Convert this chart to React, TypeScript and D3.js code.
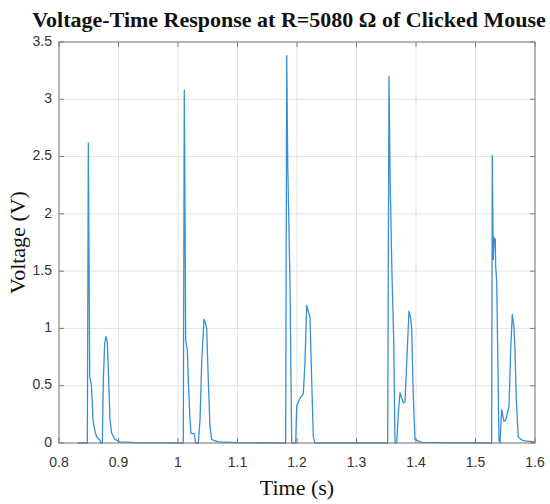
import React from "react";
import * as d3 from "d3";

const title = "Voltage-Time Response at R=5080 Ω of Clicked Mouse";
const xLabel = "Time (s)";
const yLabel = "Voltage (V)";
const xTicks = [0.8, 0.9, 1.0, 1.1, 1.2, 1.3, 1.4, 1.5, 1.6];
const yTicks = [0, 0.5, 1, 1.5, 2, 2.5, 3, 3.5];

// time (s)
const timeS = [
  0.832, 0.8476, 0.8493, 0.8516, 0.8538, 0.855, 0.8571, 0.8605, 0.8633, 0.866, 0.8689, 0.8706,
  0.8728, 0.8745, 0.8768, 0.879, 0.8812, 0.8835, 0.8857, 0.8886, 0.8941, 0.9025, 0.93,
  1.0089, 1.0106, 1.0129, 1.0157, 1.0173, 1.0202, 1.0218, 1.0274, 1.0297,
  1.0341, 1.037, 1.0398, 1.0437, 1.0465, 1.0482, 1.0509, 1.0538, 1.0566, 1.0678, 1.1,
  1.181, 1.1827, 1.1845, 1.1882, 1.1911,
  1.1978, 1.1995, 1.205, 1.2106, 1.2134, 1.2163, 1.219, 1.2218, 1.2247, 1.2274, 1.2303,
  1.3524, 1.3546, 1.3565, 1.3595, 1.3625, 1.3647,
  1.3676, 1.3703, 1.3731, 1.3787, 1.3815, 1.3844, 1.3882, 1.3911, 1.3928, 1.3955, 1.3983, 1.41,
  1.5272, 1.5282, 1.5299, 1.5316, 1.5333, 1.5339, 1.5356, 1.5395, 1.5412,
  1.544, 1.5479, 1.5507, 1.5563, 1.5591, 1.5618, 1.5647, 1.5664, 1.5686, 1.5719, 1.58, 1.59, 1.6,
];
// voltage (V)
const voltageV = [
  0, 0, 2.62, 0.58, 0.52, 0.46, 0.2, 0.1, 0.055, 0.04, 0.025, 0,
  0, 0.55, 0.87, 0.93, 0.88, 0.55, 0.2, 0.085, 0.032, 0.01, 0.004,
  0, 3.08, 0.9, 0.81, 0.55, 0.2, 0.085, 0.08, 0,
  0, 0.2, 0.7, 1.08, 1.04, 1.0, 0.55, 0.14, 0.03, 0.01, 0.003,
  0, 3.38, 2.4, 1.4, 0,
  0, 0.32, 0.39, 0.43, 0.7, 1.2, 1.15, 1.1, 0.55, 0.055, 0,
  0, 3.2, 2.3, 1.5, 0.9, 0,
  0, 0.26, 0.44, 0.35, 0.36, 0.7, 1.15, 1.09, 0.99, 0.4, 0.03, 0.005,
  0, 2.51, 1.6, 1.79, 1.78, 1.54, 1.42, 0.02, 0,
  0.29, 0.19, 0.2, 0.32, 0.81, 1.12, 1.01, 0.81, 0.38, 0.05, 0.02, 0.015, 0.01,
];

const W = 550;
const H = 504;
const left = 59;
const right = 535;
const top = 42;
const bottom = 443;

export default function App() {
  const x = d3.scaleLinear().domain([0.8, 1.6]).range([left, right]);
  const y = d3.scaleLinear().domain([0, 3.5]).range([bottom, top]);
  const pts = timeS.map((t, i) => [t, voltageV[i]] as [number, number]);
  const line = d3
    .line<[number, number]>()
    .x((d) => x(d[0]))
    .y((d) => y(d[1]));
  const fmt = d3.format("~g");
  const axisColor = "#7d7d7d";
  const tickLen = 5;
  return (
    <div style={{ position: "absolute", left: 0, top: 0 }}>
      <svg width={W} height={H} style={{ display: "block", background: "#fff" }}>
        <defs>
          <clipPath id="plotclip">
            <rect x={left} y={top - 10} width={right - left} height={bottom - top + 11} />
          </clipPath>
        </defs>
        {/* grid */}
        {xTicks.map((t) => (
          <line key={"gx" + t} x1={x(t)} x2={x(t)} y1={top} y2={bottom} stroke="#e3e3e3" strokeWidth={1} />
        ))}
        {yTicks.map((t) => (
          <line key={"gy" + t} x1={left} x2={right} y1={y(t)} y2={y(t)} stroke="#e3e3e3" strokeWidth={1} />
        ))}
        {/* data */}
        <path
          d={line(pts) || ""}
          fill="none"
          stroke="#3a8fd4"
          strokeWidth={1.3}
          strokeLinejoin="round"
          clipPath="url(#plotclip)"
        />
        {/* box */}
        <rect x={left} y={top} width={right - left} height={bottom - top} fill="none" stroke={axisColor} strokeWidth={1} />
        {/* ticks */}
        {xTicks.map((t) => (
          <g key={"tx" + t}>
            <line x1={x(t)} x2={x(t)} y1={bottom} y2={bottom - tickLen} stroke={axisColor} />
            <line x1={x(t)} x2={x(t)} y1={top} y2={top + tickLen} stroke={axisColor} />
            <text
              x={x(t)}
              y={463}
              textAnchor="middle"
              dominantBaseline="middle"
              fontFamily="Liberation Sans, Arial, sans-serif"
              fontSize={14}
              fill="#333"
            >
              {fmt(t)}
            </text>
          </g>
        ))}
        {yTicks.map((t) => (
          <g key={"ty" + t}>
            <line x1={left} x2={left + tickLen} y1={y(t)} y2={y(t)} stroke={axisColor} />
            <line x1={right} x2={right - tickLen} y1={y(t)} y2={y(t)} stroke={axisColor} />
            <text
              x={52}
              y={y(t)}
              textAnchor="end"
              dominantBaseline="middle"
              fontFamily="Liberation Sans, Arial, sans-serif"
              fontSize={14}
              fill="#333"
            >
              {fmt(t)}
            </text>
          </g>
        ))}
        {/* labels */}
        <text
          x={289}
          y={27}
          textAnchor="middle"
          fontFamily="Liberation Serif, Times New Roman, serif"
          fontWeight="bold"
          fontSize={22}
          fill="#111"
        >
          {title}
        </text>
        <text
          x={(left + right) / 2}
          y={495}
          textAnchor="middle"
          fontFamily="Liberation Serif, Times New Roman, serif"
          fontSize={22}
          fill="#111"
        >
          {xLabel}
        </text>
        <text
          transform={`translate(25, ${(top + bottom) / 2}) rotate(-90)`}
          textAnchor="middle"
          fontFamily="Liberation Serif, Times New Roman, serif"
          fontSize={22}
          fill="#111"
        >
          {yLabel}
        </text>
      </svg>
    </div>
  );
}
